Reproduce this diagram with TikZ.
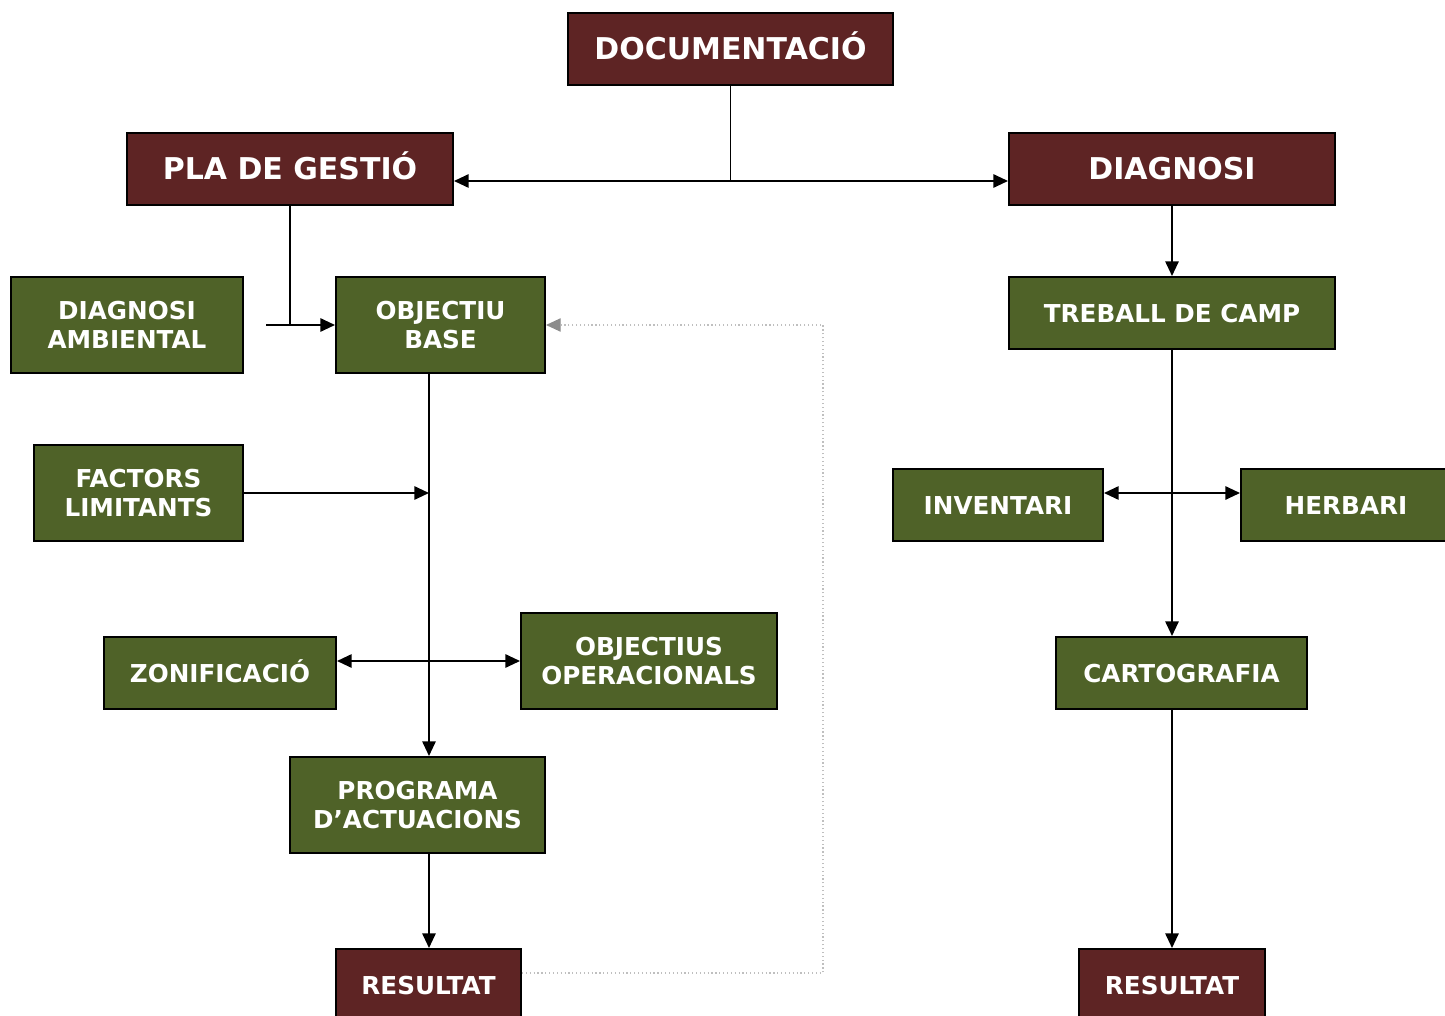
\documentclass[tikz,border=0pt]{standalone}
\usepackage{fontspec}
\setmainfont{DejaVu Sans}
\usetikzlibrary{arrows.meta}
\definecolor{granat}{HTML}{5E2424}
\definecolor{oliva}{HTML}{4F6228}

\begin{document}
\begin{tikzpicture}[x=0.75pt,y=-0.75pt,
  caixa/.style={draw=black,line width=1.5pt,text=white,inner sep=0pt},
  una/.style={text height=13.5pt,text depth=0pt},
  dues/.style={align=center},
  titol/.style={caixa,fill=granat,font=\fontsize{22.5}{26}\selectfont\bfseries,text height=16.4pt,text depth=0pt},
  verda/.style={caixa,fill=oliva,font=\fontsize{18.5}{21.75}\selectfont\bfseries},
  final/.style={caixa,fill=granat,font=\fontsize{18.5}{21.75}\selectfont\bfseries,una},
  fletxa/.style={line width=1.4pt,-{Triangle[length=11pt,width=10pt]}},
  retorn/.style={draw=black!25,line width=0.9pt,dotted,-{Triangle[length=11pt,width=10pt,color=black!45]}}]
  \useasboundingbox (0,0) rectangle (1445,1016);
  % capcalera
  \node[titol,minimum width=243.75pt,minimum height=54pt] (doc) at (730.5,49) {DOCUMENTACIÓ};
  \node[titol,minimum width=244.5pt,minimum height=54pt] (pla) at (290,169) {PLA DE GESTIÓ};
  \node[titol,minimum width=244.5pt,minimum height=54pt] (diag) at (1172,169) {DIAGNOSI};
  % branca del pla
  \node[verda,dues,minimum width=174pt,minimum height=72pt] (diagamb) at (127,325) {DIAGNOSI\\AMBIENTAL};
  \node[verda,dues,minimum width=156.75pt,minimum height=72pt] (objbase) at (440.5,325) {OBJECTIU\\BASE};
  \node[verda,dues,minimum width=156.75pt,minimum height=72pt] (factors) at (138.5,493) {FACTORS\\LIMITANTS};
  \node[verda,una,minimum width=174pt,minimum height=54pt] (zonif) at (220,673) {ZONIFICACIÓ};
  \node[verda,dues,minimum width=192pt,minimum height=72pt] (objop) at (649,661) {OBJECTIUS\\OPERACIONALS};
  \node[verda,dues,minimum width=191.25pt,minimum height=72pt] (programa) at (417.5,805) {PROGRAMA\\D’ACTUACIONS};
  \node[final,minimum width=138.75pt,minimum height=54pt] (result1) at (428.5,985) {RESULTAT};
  % branca de la diagnosi
  \node[verda,una,minimum width=244.5pt,minimum height=54pt] (treball) at (1172,313) {TREBALL DE CAMP};
  \node[verda,una,minimum width=157.5pt,minimum height=54pt] (inventari) at (998,505) {INVENTARI};
  \node[verda,una,minimum width=157.5pt,minimum height=54pt] (herbari) at (1346,505) {HERBARI};
  \node[verda,una,minimum width=188.25pt,minimum height=54pt] (carto) at (1181.5,673) {CARTOGRAFIA};
  \node[final,minimum width=139.5pt,minimum height=54pt] (result2) at (1172,985) {RESULTAT};
  % punts de pas
  \coordinate (nus) at (730.5,181);
  \coordinate (entrada) at (266,325);
  \coordinate (eix) at (429,493);
  \coordinate (creu) at (429,661);
  \coordinate (creuB) at (1172,493);
  \coordinate (volta) at (823,973);
  % connexions
  \draw[line width=1.4pt] (doc) -- (nus);
  \draw[fletxa] (nus) -- (pla.east |- nus);
  \draw[fletxa] (nus) -- (diag.west |- nus);
  \draw[line width=1.4pt] (pla) -- (pla |- entrada);
  \draw[fletxa] (entrada) -- (objbase);
  \draw[fletxa] (objbase.south -| eix) -- (programa.north -| eix);
  \draw[fletxa] (factors) -- (eix);
  \draw[fletxa] (creu) -- (zonif.east |- creu);
  \draw[fletxa] (creu) -- (objop.west |- creu);
  \draw[fletxa] (programa.south -| eix) -- (result1.north -| eix);
  \draw[retorn] (result1.east |- volta) -- (volta) |- (objbase.east);
  \draw[fletxa] (diag) -- (treball);
  \draw[fletxa] (treball) -- (treball |- carto.north);
  \draw[fletxa] (creuB) -- (inventari.east |- creuB);
  \draw[fletxa] (creuB) -- (herbari.west |- creuB);
  \draw[fletxa] (carto.south -| treball) -- (result2);
\end{tikzpicture}
\end{document}
